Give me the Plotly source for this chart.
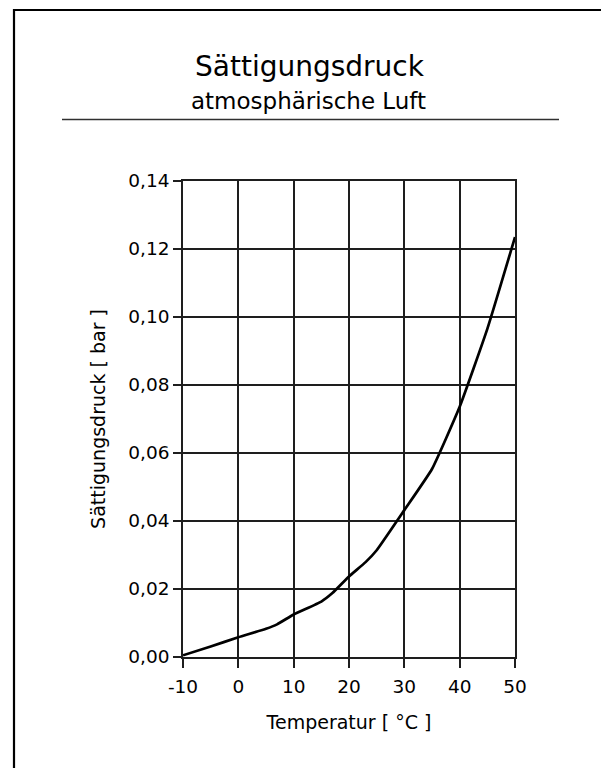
import plotly.graph_objects as go

# ---- data ----
temperature_c = [-10, -5, 0, 5, 7, 10, 15, 17, 20, 23, 25, 30, 35, 40, 45, 50]
pressure_bar = [0.0005, 0.0031, 0.0058, 0.0083, 0.0096, 0.0125, 0.0163, 0.0188,
                0.0237, 0.0279, 0.0314, 0.0432, 0.0553, 0.0736, 0.0965, 0.1235]

x_tick_vals = [-10, 0, 10, 20, 30, 40, 50]
x_tick_text = ["-10", "0", "10", "20", "30", "40", "50"]
y_tick_vals = [0.00, 0.02, 0.04, 0.06, 0.08, 0.10, 0.12, 0.14]
y_tick_text = ["0,00", "0,02", "0,04", "0,06", "0,08", "0,10", "0,12", "0,14"]

title_text = "Sättigungsdruck"
subtitle_text = "atmosphärische Luft"
x_title = "Temperatur [ °C ]"
y_title = "Sättigungsdruck [ bar ]"

# ---- layout geometry (page pixels; the page body adds an 8px margin) ----
OFF = 8
W, H = 609 - 2 * OFF, 776 - 2 * OFF
PLOT_L, PLOT_R, PLOT_T, PLOT_B = 183, 515, 181, 657
ML = PLOT_L - OFF
MR = W - (PLOT_R - OFF)
MT = PLOT_T - OFF
MB = H - (PLOT_B - OFF)
PW = W - ML - MR
PH = H - MT - MB


def px(x):
    return (x - OFF - ML) / PW


def py(y):
    return (H - MB - (y - OFF)) / PH


FONT = "DejaVu Sans"
INK = "#000000"
GRID = "#1e1e1e"

fig = go.Figure()
fig.add_trace(go.Scatter(
    x=temperature_c, y=pressure_bar, mode="lines",
    line=dict(color="#000000", width=2.7, shape="spline", smoothing=0.4),
    showlegend=False, hoverinfo="skip",
))

axis_common = dict(
    showline=True, linecolor=GRID, linewidth=1.5, mirror=True,
    showgrid=True, gridcolor=GRID, gridwidth=1.5,
    zeroline=False, ticks="outside", tickcolor=GRID, tickwidth=1.5,
    tickfont=dict(family=FONT, size=18.5, color=INK),
)

fig.update_xaxes(
    range=[-10, 50], tickmode="array", tickvals=x_tick_vals, ticktext=x_tick_text,
    ticklen=9, ticklabelstandoff=3,
    title=dict(text=x_title, font=dict(family=FONT, size=19, color=INK), standoff=20),
    **axis_common,
)
fig.update_yaxes(
    range=[0, 0.14], tickmode="array", tickvals=y_tick_vals, ticktext=y_tick_text,
    ticklen=8,
    title=dict(text=y_title, font=dict(family=FONT, size=19, color=INK), standoff=18),
    **axis_common,
)

annotations = [
    dict(text=title_text, xref="paper", yref="paper", x=px(310), y=py(67),
         xanchor="center", yanchor="middle", showarrow=False,
         font=dict(family=FONT, size=28, color=INK)),
    dict(text=subtitle_text, xref="paper", yref="paper", x=px(308.5), y=py(101),
         xanchor="center", yanchor="middle", showarrow=False,
         font=dict(family=FONT, size=23, color=INK)),
]

shapes = [
    # rule under the subtitle
    dict(type="line", xref="paper", yref="paper", x0=px(62), x1=px(559), y0=py(119.5), y1=py(119.5),
         line=dict(color="#303030", width=1.6)),
    # outer frame (top and left edges visible)
    dict(type="rect", xref="paper", yref="paper", x0=px(14), x1=px(800), y0=py(1000), y1=py(10),
         line=dict(color="#000000", width=2.2), fillcolor="rgba(0,0,0,0)"),
]

fig.update_layout(
    width=W, height=H, autosize=False,
    margin=dict(l=ML, r=MR, t=MT, b=MB, pad=0),
    paper_bgcolor="white", plot_bgcolor="white",
    font=dict(family=FONT, color=INK),
    annotations=annotations, shapes=shapes,
)

fig.write_html("out.html")
